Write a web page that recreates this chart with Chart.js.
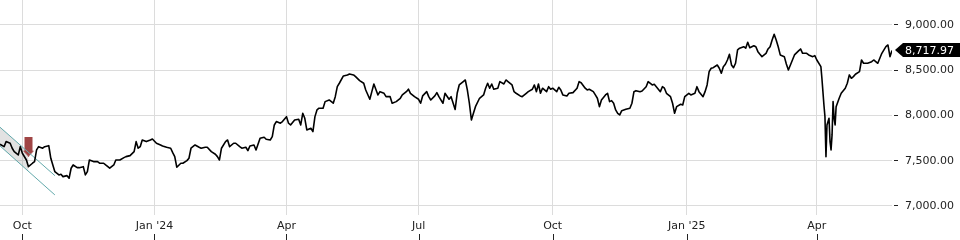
<!DOCTYPE html>
<html>
<head>
<meta charset="utf-8">
<script src="https://cdn.jsdelivr.net/npm/chart.js@4.4.0/dist/chart.umd.min.js"></script>
<style>
html, body { margin: 0; padding: 0; background: #fff; }
#wrap { width: 960px; height: 240px; }
</style>
</head>
<body>
<div id="wrap"><canvas id="chart"></canvas></div>
<script>
// x = weekday count from 15 Sep 2023, y = index level
const days = [
  0, 2, 3, 5, 6, 7, 9, 10, 11, 13, 14, 16, 17, 18, 19, 21, 22, 24, 25, 26, 27, 29, 30, 31, 33, 34, 35, 36, 38, 39,
  41, 42, 43, 44, 46, 48, 49, 51, 52, 54, 56, 57, 59, 61, 62, 64, 66, 67, 68, 69, 70, 72, 74, 75, 77, 79,
  80, 82, 84, 85, 86, 87, 89, 90, 92, 93, 94, 96, 98, 99, 101, 102, 104, 106, 107, 108, 109, 111, 112, 113,
  115, 116, 118, 119, 121, 122, 123, 125, 126, 128, 130, 131, 133, 134, 135, 136, 138, 139, 141, 142, 143,
  145, 147, 148, 149, 150, 151, 153, 154, 155, 156, 157,
  159, 160, 162, 164, 165, 166, 167, 169, 171, 172, 174, 175, 177, 179, 180, 182, 183, 184, 186, 187, 189,
  190, 192, 193, 195, 197, 198, 200, 201, 202, 204, 206, 207, 208, 210, 211, 212, 214, 215, 216, 218, 219,
  221, 222, 224, 225, 226, 228, 229, 230, 231, 232, 233, 234, 236,
  238, 239, 240, 241, 242, 243, 245, 246, 248, 249, 250, 252, 253, 254, 256, 257, 259, 260, 262, 263, 264,
  265, 266, 267, 269, 270, 271, 272, 274, 275, 276, 277, 279, 280, 282, 284, 285, 286, 288, 289, 290, 292,
  293, 294, 295, 296, 298, 299, 300, 301, 302, 303, 304, 305, 306, 308, 310, 311, 312, 313, 315,
  316, 318, 319, 321, 322, 323, 325, 326, 327, 328, 330, 331, 332, 333, 335, 336, 337, 339, 340, 342, 343,
  344, 346, 347, 348, 349, 350, 351, 353, 354, 355, 356, 357, 358, 359, 360, 361, 362, 363, 364, 366, 367,
  368, 369, 371, 372, 373, 374, 375, 377, 378, 379, 380, 381, 382, 383, 384, 386, 387, 388, 389, 390, 391,
  393, 394, 395, 397, 398, 400, 401, 402, 404, 404.5, 405, 405.5, 406, 406.5, 407, 408, 408.5, 409, 409.5,
  410, 410.5, 411, 411.5, 413, 414, 416, 417, 418, 419, 420, 421, 423, 424, 425, 427, 429, 430, 432, 433,
  434, 436, 437, 438, 439
];
const closes = [
  7682, 7655, 7711, 7693, 7638, 7600, 7564, 7655, 7582, 7508, 7434, 7472, 7490, 7619, 7655, 7638, 7655, 7666, 7527, 7453, 7379, 7343, 7350, 7324, 7335, 7306, 7417, 7453, 7423, 7423,
  7434, 7343, 7379, 7508, 7490, 7490, 7472, 7472, 7453, 7417, 7453, 7508, 7508, 7534, 7545, 7556, 7600, 7711, 7638, 7655, 7729, 7711, 7729, 7740, 7693, 7674,
  7663, 7649, 7638, 7589, 7545, 7428, 7472, 7472, 7501, 7527, 7638, 7674, 7649, 7638, 7649, 7649, 7600, 7571, 7545, 7508, 7638, 7711, 7729, 7655,
  7693, 7693, 7655, 7638, 7649, 7611, 7663, 7674, 7619, 7748, 7759, 7737, 7729, 7766, 7895, 7932, 7914, 7932, 7987, 7914, 7895,
  7950, 7958, 7895, 8024, 7969, 7840, 7859, 7821, 7987, 8061, 8080,
  8080, 8153, 8171, 8135, 8208, 8318, 8356, 8437, 8448, 8459, 8448, 8429, 8385, 8356, 8282, 8179, 8263, 8348, 8227, 8263, 8245,
  8208, 8208, 8135, 8153, 8190, 8227, 8263, 8290, 8245, 8208, 8179, 8135, 8216, 8263, 8208, 8171, 8216, 8252, 8208, 8135, 8245,
  8179, 8208, 8066, 8245, 8337, 8374, 8392, 8282, 8135, 7950, 8024, 8097, 8190,
  8227, 8301, 8356, 8301, 8348, 8290, 8301, 8374, 8348, 8392, 8374, 8337, 8263, 8245, 8216, 8208, 8245, 8263, 8290, 8337, 8263,
  8348, 8245, 8301, 8263, 8318, 8290, 8301, 8263, 8312, 8282, 8227, 8216, 8245, 8252, 8301, 8374, 8362, 8301, 8282, 8290, 8263,
  8227, 8190, 8097, 8171, 8227, 8245, 8153, 8164, 8135, 8061, 8024, 8006, 8053, 8069, 8080, 8135, 8263, 8274, 8263,
  8271, 8318, 8374, 8337, 8345, 8318, 8263, 8318, 8301, 8245, 8208, 8135, 8024, 8097, 8124, 8116, 8208, 8245, 8227, 8245, 8318,
  8263, 8208, 8263, 8337, 8484, 8522, 8528, 8558, 8522, 8466, 8539, 8566, 8613, 8676, 8558, 8528, 8577, 8724, 8743, 8760, 8743,
  8809, 8749, 8771, 8760, 8705, 8676, 8650, 8687, 8735, 8760, 8834, 8897, 8834, 8760, 8669, 8650, 8569, 8503, 8558, 8613, 8669,
  8713, 8735, 8687, 8687, 8669, 8650, 8661, 8613, 8539, 8411, 8263, 8116, 7987, 7545, 7895, 7969, 7711, 7619, 7785,
  8153, 7969, 7895, 8097, 8190, 8245, 8301, 8356, 8448, 8411, 8429, 8455, 8484, 8613, 8577, 8577, 8594, 8613, 8577, 8632,
  8687, 8760, 8779, 8650, 8717.97
];

const xTickPos = [11, 76, 141, 206, 272, 338, 402];
const xTickLabels = ['Oct', "Jan '24", 'Apr', 'Jul', 'Oct', "Jan '25", 'Apr'];
const yTicks = [7000, 7500, 8000, 8500, 9000];

// drawn trend channel + shaded part + sell marker
const channelX = [0, 27];
const channelUpper = [7870, 7335];
const channelLower = [7663, 7122];
const shadeX = [0, 14];
const shadeUpper = [7870, 7593];
const shadeLower = [7663, 7382];
const markerX = [14];
const markerY = [7655];

function pts(xs, ys) {
  return xs.map((x, i) => ({ x: x, y: ys[i] }));
}

function arrowImage() {
  const c = document.createElement('canvas');
  c.width = 11;
  c.height = 20;
  const g = c.getContext('2d');
  g.fillStyle = 'rgba(150,50,50,0.9)';
  g.beginPath();
  g.moveTo(1.5, 0);
  g.lineTo(9.5, 0);
  g.lineTo(9.5, 14);
  g.lineTo(11, 14);
  g.lineTo(5.5, 20);
  g.lineTo(0, 14);
  g.lineTo(1.5, 14);
  g.closePath();
  g.fill();
  return c;
}

const fmt = v => v.toLocaleString('en-US', { minimumFractionDigits: 2, maximumFractionDigits: 2 });

function noPad(s) {
  s.paddingTop = 0;
  s.paddingBottom = 0;
  s.paddingLeft = 0;
  s.paddingRight = 0;
}

const decor = {
  id: 'decor',
  afterDraw(chart) {
    const ctx = chart.ctx;
    const xs = chart.scales.x;
    const ys = chart.scales.y;
    ctx.save();
    // x tick marks under the labels
    ctx.strokeStyle = '#222';
    ctx.lineWidth = 1;
    xs.ticks.forEach(t => {
      const px = Math.round(xs.getPixelForValue(t.value)) + 0.5;
      ctx.beginPath();
      ctx.moveTo(px, xs.bottom - 6);
      ctx.lineTo(px, xs.bottom);
      ctx.stroke();
    });
    // last price tag
    const last = closes[closes.length - 1];
    const py = Math.round(ys.getPixelForValue(last));
    const left = chart.chartArea.right + 3;
    ctx.fillStyle = '#000';
    ctx.beginPath();
    ctx.moveTo(left, py);
    ctx.lineTo(left + 8, py - 7);
    ctx.lineTo(chart.width, py - 7);
    ctx.lineTo(chart.width, py + 7);
    ctx.lineTo(left + 8, py + 7);
    ctx.closePath();
    ctx.fill();
    ctx.fillStyle = '#fff';
    ctx.font = '11px "DejaVu Sans"';
    ctx.textBaseline = 'middle';
    ctx.fillText(fmt(last), left + 10, py + 1);
    ctx.restore();
  }
};

Chart.defaults.font.family = '"DejaVu Sans"';
Chart.defaults.font.size = 11;

new Chart(document.getElementById('chart'), {
  type: 'line',
  data: {
    datasets: [
      {
        data: pts(days, closes),
        borderColor: '#000',
        borderWidth: 1.6,
        borderJoinStyle: 'round',
        pointRadius: 0,
        order: 0
      },
      {
        data: pts(channelX, channelUpper),
        borderColor: '#62a9ab',
        borderWidth: 1,
        pointRadius: 0,
        order: 1
      },
      {
        data: pts(channelX, channelLower),
        borderColor: '#62a9ab',
        borderWidth: 1,
        pointRadius: 0,
        order: 1
      },
      {
        data: pts(markerX, markerY),
        showLine: false,
        pointStyle: arrowImage(),
        pointRadius: 5,
        order: 2
      },
      {
        data: pts(shadeX, shadeUpper),
        borderWidth: 0,
        pointRadius: 0,
        backgroundColor: 'rgba(150,150,150,0.28)',
        fill: '+1',
        order: 3
      },
      {
        data: pts(shadeX, shadeLower),
        borderWidth: 0,
        pointRadius: 0,
        order: 3
      }
    ]
  },
  options: {
    responsive: true,
    maintainAspectRatio: false,
    animation: false,
    layout: { padding: 0, autoPadding: false },
    plugins: { legend: { display: false }, tooltip: { enabled: false } },
    scales: {
      x: {
        type: 'linear',
        min: 0,
        max: 439,
        grid: { color: '#dcdcdc', drawTicks: false },
        border: { display: false },
        afterBuildTicks: s => { s.ticks = xTickPos.map(v => ({ value: v })); },
        afterFit: s => { s.height = 25; noPad(s); },
        ticks: {
          color: '#222',
          padding: 5,
          maxRotation: 0,
          autoSkip: false,
          callback: (v, i) => xTickLabels[i]
        }
      },
      y: {
        position: 'right',
        min: 6900,
        max: 9276,
        grid: {
          color: '#dcdcdc',
          tickColor: '#222',
          tickLength: 8,
          tickBorderDash: [4, 16],
          tickBorderDashOffset: 18
        },
        border: { display: false },
        afterBuildTicks: s => { s.ticks = yTicks.map(v => ({ value: v })); },
        afterFit: s => { s.width = 68; noPad(s); },
        ticks: {
          color: '#222',
          padding: 5,
          callback: v => fmt(v)
        }
      }
    }
  },
  plugins: [decor]
});
</script>
</body>
</html>
